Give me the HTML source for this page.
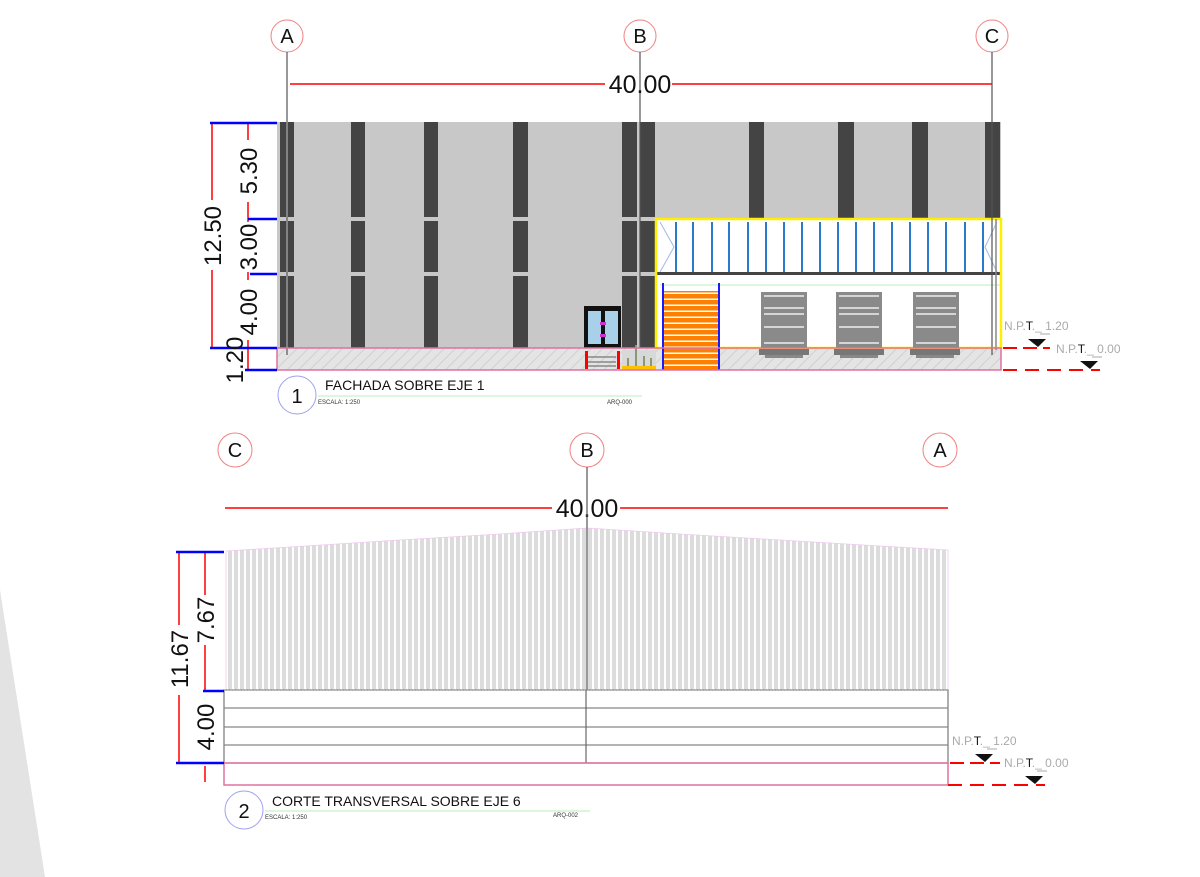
<!DOCTYPE html>
<html><head><meta charset="utf-8"><style>
html,body{margin:0;padding:0;background:#fff;width:1200px;height:877px;overflow:hidden}
svg{display:block}
text{font-family:"Liberation Sans",sans-serif}
</style></head><body>
<svg width="1200" height="877" viewBox="0 0 1200 877" xmlns="http://www.w3.org/2000/svg">
<defs>
<pattern id="hatch" width="8" height="8" patternUnits="userSpaceOnUse" patternTransform="rotate(45)">
<rect width="8" height="8" fill="#e4e4e4"/><line x1="0" y1="0" x2="0" y2="8" stroke="#d0d0d0" stroke-width="2"/>
</pattern>
<pattern id="vstripes" width="6" height="10" patternUnits="userSpaceOnUse">
<rect width="6" height="10" fill="#fff"/><rect x="0" width="4" height="10" fill="#dcdcdc"/>
</pattern>
<pattern id="orange" width="10" height="6" patternUnits="userSpaceOnUse">
<rect width="10" height="6" fill="#fff"/><rect width="10" height="4.5" fill="#ff8000"/>
</pattern>
</defs>

<!-- left gray wedge -->
<polygon points="0,590 45,877 0,877" fill="#e3e3e3"/>

<!-- ===== TOP FACADE ===== -->
<!-- grid bubbles -->
<g fill="#fff" stroke="#f08080" stroke-width="1">
<circle cx="287" cy="36" r="16"/><circle cx="640" cy="36" r="16"/><circle cx="992" cy="36" r="16"/>
</g>
<g font-size="20" text-anchor="middle" fill="#111">
<text x="287" y="43">A</text><text x="640" y="43">B</text><text x="992" y="43">C</text>
</g>
<!-- building gray -->
<rect x="277" y="122" width="724" height="226" fill="#c8c8c8"/>
<!-- columns -->
<g fill="#444">
<rect x="280" y="122" width="6" height="226"/><rect x="288" y="122" width="6" height="226"/>
<rect x="351" y="122" width="14" height="226"/>
<rect x="424" y="122" width="14" height="226"/>
<rect x="513" y="122" width="15" height="226"/>
<rect x="622" y="122" width="15" height="226"/><rect x="640" y="122" width="15" height="226"/>
<rect x="749" y="122" width="15" height="96"/>
<rect x="838" y="122" width="16" height="96"/>
<rect x="912" y="122" width="16" height="96"/>
<rect x="985" y="122" width="15" height="96"/>
</g>
<!-- floor gaps -->
<g fill="#c8c8c8"><rect x="277" y="217" width="380" height="4"/><rect x="277" y="272" width="380" height="4"/></g>
<!-- hatched base -->
<rect x="277" y="348" width="724" height="22" fill="url(#hatch)"/>
<!-- right glazed section -->
<rect x="656" y="219" width="345" height="129" fill="#fff"/>
<g stroke="#2a7acc" stroke-width="2">
<line x1="676" y1="222" x2="676" y2="273"/><line x1="693" y1="222" x2="693" y2="273"/><line x1="712" y1="222" x2="712" y2="273"/>
<line x1="729" y1="222" x2="729" y2="273"/><line x1="748" y1="222" x2="748" y2="273"/><line x1="766" y1="222" x2="766" y2="273"/>
<line x1="784" y1="222" x2="784" y2="273"/><line x1="802" y1="222" x2="802" y2="273"/><line x1="820" y1="222" x2="820" y2="273"/>
<line x1="838" y1="222" x2="838" y2="273"/><line x1="856" y1="222" x2="856" y2="273"/><line x1="874" y1="222" x2="874" y2="273"/>
<line x1="892" y1="222" x2="892" y2="273"/><line x1="910" y1="222" x2="910" y2="273"/><line x1="928" y1="222" x2="928" y2="273"/>
<line x1="946" y1="222" x2="946" y2="273"/><line x1="965" y1="222" x2="965" y2="273"/><line x1="983" y1="222" x2="983" y2="273"/>
</g>
<g stroke="#a0b8e8" stroke-width="1" fill="none">
<polyline points="660,222 674,247 660,272"/><polyline points="997,222 985,247 997,272"/>
</g>
<rect x="657" y="272" width="344" height="3" fill="#444"/>
<line x1="660" y1="285" x2="1000" y2="285" stroke="#b8f0b8" stroke-width="1"/>
<line x1="657" y1="347.5" x2="1001" y2="347.5" stroke="#888" stroke-width="1"/>
<rect x="656" y="219" width="345" height="129" fill="none" stroke="#ffee00" stroke-width="2.5"/>
<line x1="996" y1="219" x2="996" y2="350" stroke="#888" stroke-width="1.5"/>
<!-- stairs -->
<rect x="663" y="291" width="57" height="79" fill="url(#orange)"/>
<line x1="663" y1="283" x2="663" y2="370" stroke="#1a1aff" stroke-width="2"/>
<line x1="719" y1="283" x2="719" y2="370" stroke="#1a1aff" stroke-width="2"/>
<!-- windows -->
<g>
<rect x="761" y="292" width="46" height="56" fill="#8a8a8a"/>
<rect x="836" y="292" width="46" height="56" fill="#8a8a8a"/>
<rect x="913" y="292" width="46" height="56" fill="#8a8a8a"/>
<g stroke="#eee" stroke-width="1.5">
<line x1="764" y1="296" x2="804" y2="296"/><line x1="764" y1="308" x2="804" y2="308"/><line x1="764" y1="314" x2="804" y2="314"/><line x1="764" y1="327" x2="804" y2="327"/><line x1="764" y1="343" x2="804" y2="343"/>
<line x1="839" y1="296" x2="879" y2="296"/><line x1="839" y1="308" x2="879" y2="308"/><line x1="839" y1="314" x2="879" y2="314"/><line x1="839" y1="327" x2="879" y2="327"/><line x1="839" y1="343" x2="879" y2="343"/>
<line x1="916" y1="296" x2="956" y2="296"/><line x1="916" y1="308" x2="956" y2="308"/><line x1="916" y1="314" x2="956" y2="314"/><line x1="916" y1="327" x2="956" y2="327"/><line x1="916" y1="343" x2="956" y2="343"/>
</g>
<rect x="759" y="349" width="50" height="6" fill="#777"/><rect x="765" y="355" width="38" height="3" fill="#888"/>
<rect x="834" y="349" width="50" height="6" fill="#777"/><rect x="840" y="355" width="38" height="3" fill="#888"/>
<rect x="910" y="349" width="50" height="6" fill="#777"/><rect x="916" y="355" width="38" height="3" fill="#888"/>
</g>
<!-- door -->
<rect x="584" y="306" width="37" height="42" fill="#111"/>
<rect x="588" y="311" width="13" height="33" fill="#a8d0e8"/><rect x="605" y="311" width="13" height="33" fill="#a8d0e8"/>
<rect x="600" y="322" width="6" height="3" fill="#d030d0"/><rect x="600" y="334" width="6" height="3" fill="#d030d0"/>
<rect x="585" y="351" width="3" height="18" fill="#f00"/><rect x="617" y="351" width="3" height="18" fill="#f00"/>
<g stroke="#888" stroke-width="1.5"><line x1="588" y1="357" x2="616" y2="357"/><line x1="588" y1="362" x2="616" y2="362"/><line x1="588" y1="366" x2="616" y2="366"/></g>
<!-- planter -->
<rect x="622" y="350" width="34" height="17" fill="#d8d8d8"/>
<rect x="622" y="366" width="34" height="4" fill="#ffc000"/>
<g stroke="#8a9a70" stroke-width="2"><line x1="628" y1="358" x2="628" y2="366"/><line x1="636" y1="345" x2="636" y2="366"/><line x1="644" y1="356" x2="644" y2="366"/><line x1="651" y1="358" x2="651" y2="366"/></g>
<!-- grid lines -->
<g stroke="#555" stroke-width="1.2">
<line x1="287" y1="52" x2="287" y2="355"/><line x1="640" y1="52" x2="640" y2="348"/><line x1="992" y1="52" x2="992" y2="355"/>
</g>
<!-- base line -->
<rect x="277" y="348" width="724" height="22" fill="none" stroke="#e070a0" stroke-width="1.5"/>
<!-- 40.00 dim top -->
<line x1="290" y1="84" x2="605" y2="84" stroke="#f00" stroke-width="1.5"/>
<line x1="672" y1="84" x2="992" y2="84" stroke="#f00" stroke-width="1.5"/>
<text x="640" y="93" font-size="25" text-anchor="middle" fill="#111">40.00</text>
<!-- left dims -->
<g stroke="#f00" stroke-width="1.5">
<line x1="212" y1="123" x2="212" y2="348"/>
<line x1="248" y1="123" x2="248" y2="370"/>
</g>
<g stroke="#00f" stroke-width="2.5">
<line x1="210" y1="123" x2="277" y2="123"/><line x1="248" y1="219" x2="277" y2="219"/>
<line x1="250" y1="274" x2="277" y2="274"/><line x1="210" y1="348" x2="277" y2="348"/><line x1="245" y1="370" x2="277" y2="370"/>
</g>
<g font-size="24" fill="#111" text-anchor="middle">
<rect x="200" y="200" width="24" height="70" fill="#fff"/>
<text transform="translate(221,236) rotate(-90)">12.50</text>
<rect x="237" y="140" width="24" height="62" fill="#fff"/>
<text transform="translate(257,171) rotate(-90)">5.30</text>
<rect x="237" y="222" width="24" height="50" fill="#fff"/>
<text transform="translate(257,247) rotate(-90)">3.00</text>
<rect x="237" y="280" width="24" height="60" fill="#fff"/>
<text transform="translate(257,312) rotate(-90)">4.00</text>
<text transform="translate(243,360) rotate(-90)">1.20</text>
</g>
<!-- NPT top -->
<g font-size="12" fill="#aaa">
<text x="1004" y="330">N.P.<tspan fill="#111">T</tspan>._ 1.20</text>
<text x="1056" y="353">N.P.<tspan fill="#111">T</tspan>._ 0.00</text>
</g>
<line x1="1003" y1="348" x2="1050" y2="348" stroke="#f00" stroke-width="2" stroke-dasharray="14,6"/>
<line x1="1003" y1="370" x2="1100" y2="370" stroke="#f00" stroke-width="2" stroke-dasharray="14,8"/>
<polygon points="1028,339 1046,339 1038,347" fill="#111"/><line x1="1040" y1="334" x2="1050" y2="334" stroke="#aaa"/>
<polygon points="1080,361 1098,361 1090,369" fill="#111"/><line x1="1092" y1="357" x2="1102" y2="357" stroke="#aaa"/>
<!-- title 1 -->
<circle cx="297" cy="395" r="19" fill="#fff" stroke="#a0a0f0"/>
<text x="297" y="403" font-size="20" text-anchor="middle" fill="#111">1</text>
<text x="325" y="390" font-size="14" fill="#111">FACHADA SOBRE EJE 1</text>
<line x1="318" y1="396" x2="642" y2="396" stroke="#b8f0b8"/>
<text x="318" y="404" font-size="6" fill="#333">ESCALA:   1:250</text>
<text x="607" y="404" font-size="6" fill="#333">ARQ-000</text>

<!-- ===== BOTTOM SECTION ===== -->
<g fill="#fff" stroke="#f08080" stroke-width="1">
<circle cx="235" cy="450" r="17"/><circle cx="587" cy="450" r="17"/><circle cx="940" cy="450" r="17"/>
</g>
<g font-size="20" text-anchor="middle" fill="#111">
<text x="235" y="457">C</text><text x="587" y="457">B</text><text x="940" y="457">A</text>
</g>
<line x1="225" y1="508" x2="552" y2="508" stroke="#f00" stroke-width="1.5"/>
<line x1="620" y1="508" x2="948" y2="508" stroke="#f00" stroke-width="1.5"/>
<text x="587" y="517" font-size="25" text-anchor="middle" fill="#111">40.00</text>
<!-- roof stripes -->
<polygon points="226,551 290,547 400,540 500,534 587,528 680,534 780,540 880,546 948,550 948,690 226,690" fill="url(#vstripes)" stroke="#f0c8f0" stroke-width="0.8"/>
<line x1="587" y1="467" x2="587" y2="763" stroke="#555" stroke-width="1.2"/>
<!-- lower box -->
<rect x="224" y="690" width="724" height="73" fill="#fff" stroke="#777" stroke-width="1.2"/>
<g stroke="#888" stroke-width="1.2">
<line x1="224" y1="708" x2="948" y2="708"/><line x1="224" y1="727" x2="948" y2="727"/><line x1="224" y1="745" x2="948" y2="745"/>
</g>
<line x1="586" y1="690" x2="586" y2="763" stroke="#666" stroke-width="1.2"/>
<rect x="224" y="763" width="724" height="22" fill="none" stroke="#e070a0" stroke-width="1.5"/>
<line x1="224" y1="690" x2="948" y2="690" stroke="#999" stroke-dasharray="2,1"/>
<!-- dims -->
<g stroke="#f00" stroke-width="1.5">
<line x1="179" y1="552" x2="179" y2="763"/>
<line x1="205" y1="552" x2="205" y2="690"/>
<line x1="205" y1="766" x2="205" y2="782"/>
</g>
<g stroke="#00f" stroke-width="2.5">
<line x1="176" y1="552" x2="224" y2="552"/><line x1="203" y1="691" x2="224" y2="691"/><line x1="176" y1="763" x2="224" y2="763"/>
</g>
<g font-size="24" fill="#111" text-anchor="middle">
<rect x="166" y="625" width="26" height="70" fill="#fff"/>
<text transform="translate(188,659) rotate(-90)">11.67</text>
<rect x="192" y="595" width="24" height="50" fill="#fff"/>
<text transform="translate(214,620) rotate(-90)">7.67</text>
<text transform="translate(214,727) rotate(-90)">4.00</text>
</g>
<!-- NPT bottom -->
<g font-size="12" fill="#aaa">
<text x="952" y="745">N.P.<tspan fill="#111">T</tspan>._ 1.20</text>
<text x="1004" y="767">N.P.<tspan fill="#111">T</tspan>._ 0.00</text>
</g>
<line x1="950" y1="763" x2="1000" y2="763" stroke="#f00" stroke-width="2" stroke-dasharray="14,6"/>
<line x1="948" y1="785" x2="1045" y2="785" stroke="#f00" stroke-width="2" stroke-dasharray="14,8"/>
<polygon points="975,754 993,754 985,762" fill="#111"/><line x1="987" y1="749" x2="997" y2="749" stroke="#aaa"/>
<polygon points="1025,776 1043,776 1035,784" fill="#111"/><line x1="1037" y1="771" x2="1047" y2="771" stroke="#aaa"/>
<!-- title 2 -->
<circle cx="244" cy="810" r="19" fill="#fff" stroke="#a0a0f0"/>
<text x="244" y="818" font-size="20" text-anchor="middle" fill="#111">2</text>
<text x="272" y="806" font-size="14" fill="#111">CORTE TRANSVERSAL SOBRE EJE 6</text>
<line x1="265" y1="811" x2="590" y2="811" stroke="#b8f0b8"/>
<text x="265" y="819" font-size="6" fill="#333">ESCALA:   1:250</text>
<text x="553" y="817" font-size="6" fill="#333">ARQ-002</text>
</svg>
</body></html>
